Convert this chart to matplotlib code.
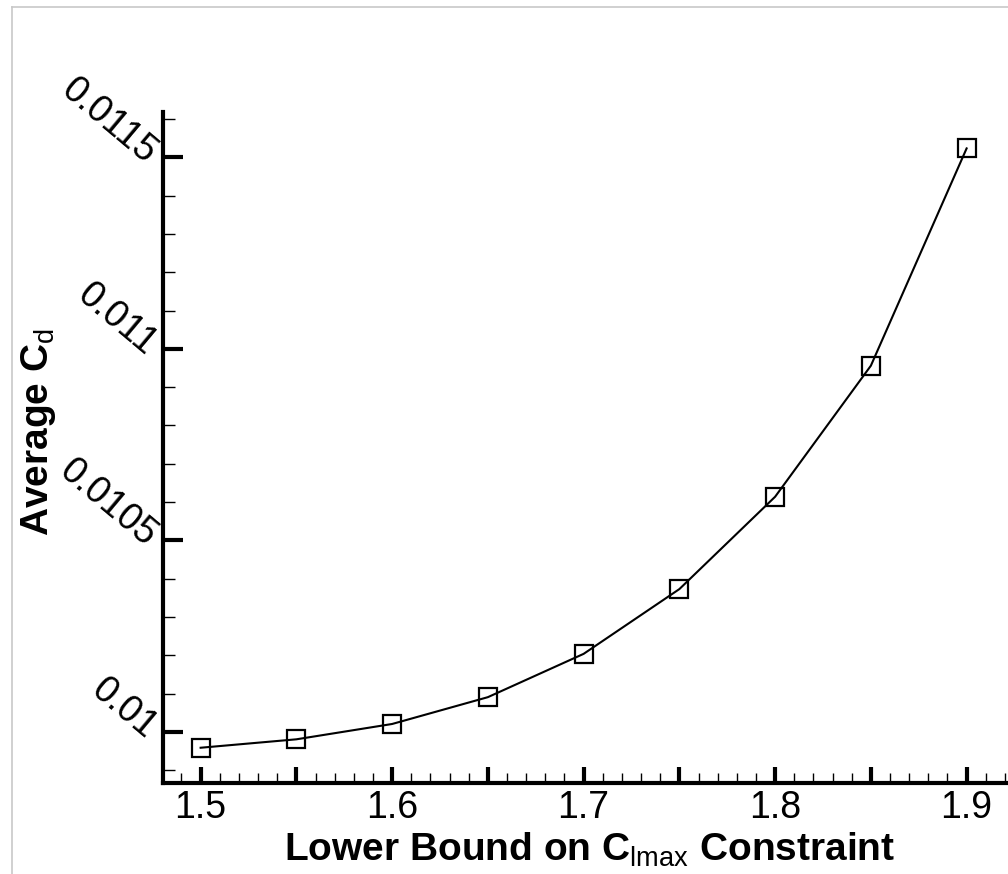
import numpy as np
import matplotlib
matplotlib.use("Agg")
import matplotlib.pyplot as plt
from matplotlib.lines import Line2D
from matplotlib.ticker import FixedLocator, MultipleLocator, FuncFormatter

# lower bound on Cl_max constraint vs. resulting average drag coefficient
cl_max_bound = [1.50, 1.55, 1.60, 1.65, 1.70, 1.75, 1.80, 1.85, 1.90]
average_cd = [0.009959, 0.009981, 0.010021, 0.010091, 0.010204,
              0.010373, 0.010614, 0.010956, 0.011523]

x_major = [1.45 + 0.05 * i for i in range(12)]
y_ticks = [0.0095, 0.01, 0.0105, 0.011, 0.0115, 0.012]

plt.rcParams['font.family'] = ['Liberation Sans', 'DejaVu Sans']
plt.rcParams['mathtext.fontset'] = 'custom'
plt.rcParams['mathtext.rm'] = 'Liberation Sans'
plt.rcParams['mathtext.it'] = 'Liberation Sans'

W, H = 1008, 874
fig = plt.figure(figsize=(W / 100, H / 100), dpi=100)

# axes placed in pixels; the right side runs past the figure edge
x0, y_bot, y_top = 162.7, 783.0, 112.0
xlim = (1.4802, 1.96)
ylim = (0.009867, 0.011618)
px_per_x = 1915.0
x_right = x0 + (xlim[1] - xlim[0]) * px_per_x
ax = fig.add_axes([x0 / W, 1 - y_bot / H, (x_right - x0) / W, (y_bot - y_top) / H])

ax.plot(cl_max_bound, average_cd, color='black', lw=1.5, marker='s',
        markersize=12.5, markerfacecolor='none', markeredgecolor='black',
        markeredgewidth=1.6, clip_on=False)

ax.set_xlim(*xlim)
ax.set_ylim(*ylim)

for side in ['top', 'right']:
    ax.spines[side].set_visible(False)
for side in ['left', 'bottom']:
    ax.spines[side].set_linewidth(3)
    ax.spines[side].set_capstyle('projecting')

ax.xaxis.set_major_locator(FixedLocator(x_major))
ax.xaxis.set_minor_locator(MultipleLocator(0.01))
ax.xaxis.set_major_formatter(FuncFormatter(
    lambda v, p: f"{v:.1f}" if abs(round(v * 10) - v * 10) < 1e-6 else ""))

ax.yaxis.set_major_locator(FixedLocator(y_ticks))
ax.yaxis.set_minor_locator(MultipleLocator(0.0001))
ax.yaxis.set_major_formatter(FuncFormatter(lambda v, p: f"{v:g}"))

ax.tick_params(axis='x', which='major', direction='in', length=11.5, width=3,
               labelsize=27, pad=5)
ax.tick_params(axis='x', which='minor', direction='in', length=7, width=1)
ax.tick_params(axis='y', which='major', direction='in', length=14.4, width=3,
               labelsize=27, pad=8)
ax.tick_params(axis='y', which='minor', direction='in', length=8.6, width=1)

for lab in ax.get_yticklabels():
    lab.set_rotation(-40)
    lab.set_rotation_mode('anchor')
    lab.set_ha('right')
    lab.set_va('center')

fig.text(590 / W, 1 - 861 / H, r"Lower Bound on C$_{\mathrm{lmax}}$ Constraint",
         fontsize=28, fontweight='bold', ha='center', va='baseline')
fig.text(48 / W, 1 - 432 / H, r"Average C$_{\mathrm{d}}$",
         fontsize=28, fontweight='bold', rotation=90, rotation_mode='anchor',
         ha='center', va='baseline')

# thin grey border along the top and left
frame_kw = dict(color='#c8c8c8', lw=1.2, transform=fig.transFigure)
fig.add_artist(Line2D([12 / W, 1.0], [1 - 7 / H, 1 - 7 / H], **frame_kw))
fig.add_artist(Line2D([12 / W, 12 / W], [0.0, 1 - 7 / H], **frame_kw))

fig.savefig("out.png", dpi=100)
